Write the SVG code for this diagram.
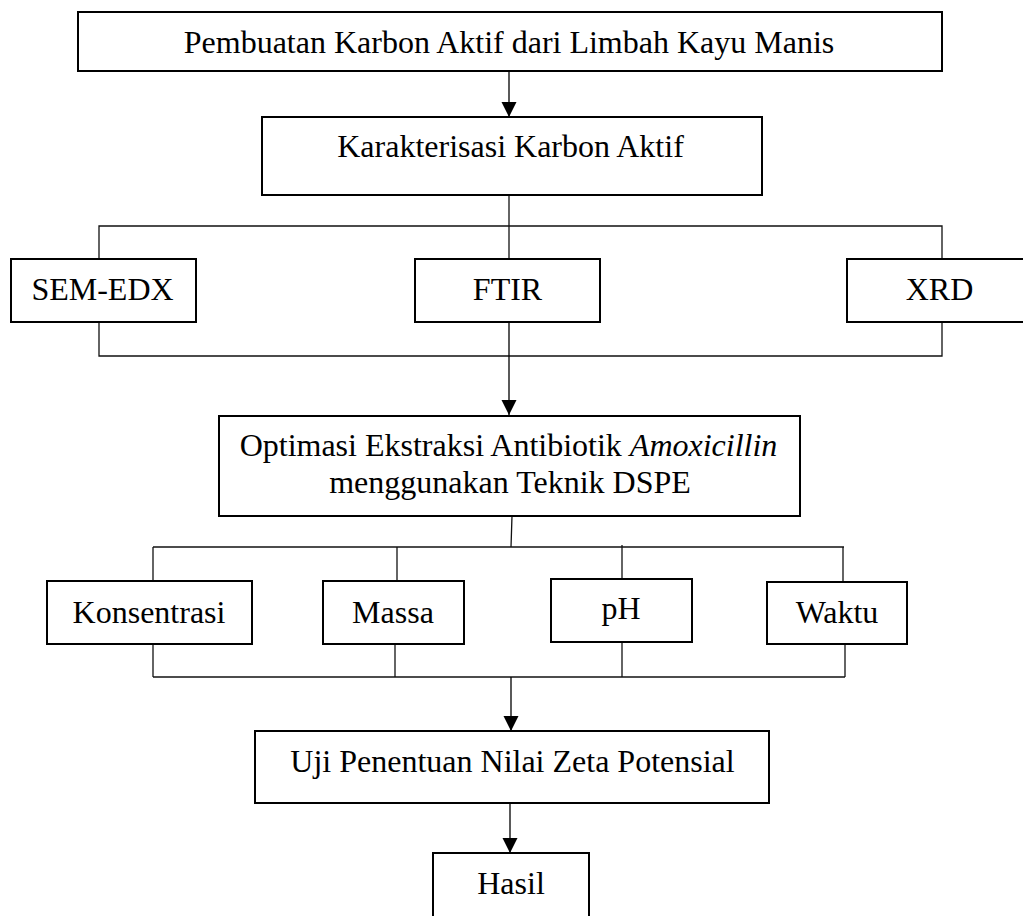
<svg xmlns="http://www.w3.org/2000/svg" width="1023" height="916" viewBox="0 0 1023 916">
<style>
.box{fill:#fff;stroke:#000;stroke-width:2}
.t{font-family:"Liberation Serif","Times New Roman",serif;font-size:32px;fill:#000;text-anchor:middle}
.ln{fill:none;stroke:#111;stroke-width:1.3}
.ar{fill:none;stroke:#000;stroke-width:1.3;marker-end:url(#ah)}
</style>
<defs>
<marker id="ah" markerUnits="userSpaceOnUse" markerWidth="16" markerHeight="16" viewBox="0 0 16 16" refX="15" refY="7.5" orient="auto">
<path d="M0,0 L15,7.5 L0,15 z" fill="#000"/>
</marker>
</defs>
<rect width="1023" height="916" fill="#fff"/>
<g id="connectors">
<line class="ar" x1="509" y1="72" x2="509" y2="117"/>
<line class="ln" x1="509" y1="195" x2="509" y2="259"/>
<polyline class="ln" points="99,259 99,226 942,226 942,259"/>
<polyline class="ln" points="99,322 99,356 942,356 942,322"/>
<line class="ar" x1="509" y1="322" x2="509" y2="415"/>
<line class="ln" x1="512" y1="516" x2="511" y2="547"/>
<line class="ln" x1="153" y1="547" x2="844" y2="547"/>
<line class="ln" x1="153" y1="547" x2="153" y2="581"/>
<line class="ln" x1="397" y1="547" x2="397" y2="581"/>
<line class="ln" x1="622" y1="545" x2="622" y2="579"/>
<line class="ln" x1="843" y1="547" x2="843" y2="582"/>
<line class="ln" x1="153" y1="644" x2="153" y2="677"/>
<line class="ln" x1="395" y1="644" x2="395" y2="677"/>
<line class="ln" x1="622" y1="642" x2="622" y2="677"/>
<line class="ln" x1="845" y1="644" x2="845" y2="677"/>
<line class="ln" x1="153" y1="677" x2="845" y2="677"/>
<line class="ar" x1="511" y1="677" x2="511" y2="731"/>
<line class="ar" x1="510" y1="803" x2="510" y2="853"/>
</g>
<g id="n1"><rect class="box" x="78" y="12" width="864" height="59"/><text class="t" x="509" y="53">Pembuatan Karbon Aktif dari Limbah Kayu Manis</text></g>
<g id="n2"><rect class="box" x="262" y="117" width="500" height="78"/><text class="t" x="510.5" y="157">Karakterisasi Karbon Aktif</text></g>
<g id="n3"><rect class="box" x="11" y="259" width="185" height="63"/><text class="t" x="102.5" y="300">SEM-EDX</text></g>
<g id="n4"><rect class="box" x="415" y="259" width="185" height="63"/><text class="t" x="507.5" y="300">FTIR</text></g>
<g id="n5"><rect class="box" x="847" y="259" width="186" height="63"/><text class="t" x="939.5" y="300">XRD</text></g>
<g id="n6"><rect class="box" x="219" y="416" width="581" height="100"/><text class="t" x="508.5" y="456">Optimasi Ekstraksi Antibiotik <tspan font-style="italic">Amoxicillin</tspan></text><text class="t" x="510" y="493">menggunakan Teknik DSPE</text></g>
<g id="n7"><rect class="box" x="47" y="581" width="205" height="63"/><text class="t" x="149" y="623">Konsentrasi</text></g>
<g id="n8"><rect class="box" x="323" y="581" width="141" height="63"/><text class="t" x="393" y="623">Massa</text></g>
<g id="n9"><rect class="box" x="551" y="579" width="141" height="63"/><text class="t" x="621" y="619">pH</text></g>
<g id="n10"><rect class="box" x="767" y="582" width="140" height="62"/><text class="t" x="837" y="623">Waktu</text></g>
<g id="n11"><rect class="box" x="255" y="731" width="514" height="72"/><text class="t" x="512.5" y="772">Uji Penentuan Nilai Zeta Potensial</text></g>
<g id="n12"><rect class="box" x="433" y="853" width="156" height="80"/><text class="t" x="511" y="894">Hasil</text></g>
</svg>
